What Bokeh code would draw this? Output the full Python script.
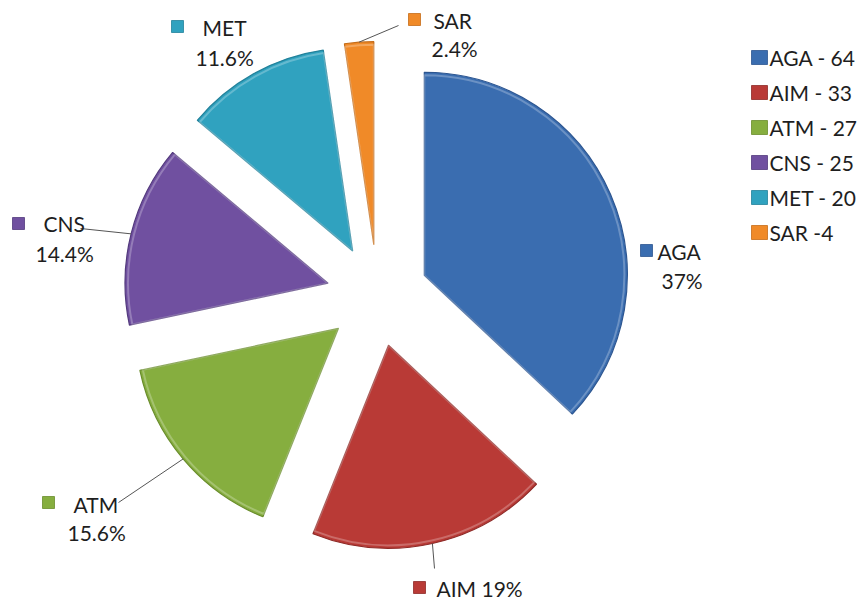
import numpy as np
from bokeh.plotting import figure
from bokeh.models import ColumnDataSource
from bokeh.core.properties import value
from bokeh.embed import file_html
from bokeh.resources import INLINE

# ---- data ----
categories = ["AGA", "AIM", "ATM", "CNS", "MET", "SAR"]
counts = [64, 33, 27, 25, 20, 4]
pct_labels = ["37%", "19%", "15.6%", "14.4%", "11.6%", "2.4%"]
legend_labels = ["AGA - 64", "AIM - 33", "ATM - 27", "CNS - 25", "MET - 20", "SAR -4"]

# ---- style ----
colors = ["#3A6DB0", "#B93A36", "#86AE3F", "#7050A0", "#30A2BF", "#F08A28"]
edges = ["#2C5590", "#8E2A27", "#6A8D2C", "#533A7D", "#22829B", "#C56C18"]
FONT = "Lato"
TXT = "#1E1E1E"
W, H = 862, 604
CX, CY = 377, 295          # pie centre (screen px)
R = 203                    # radius
EXPLODE = 51               # explosion distance


def sy(y):
    return H - y


vals = np.array(counts, dtype=float)
frac = vals / vals.sum()
cum = np.concatenate([[0], np.cumsum(frac)]) * 2 * np.pi   # clockwise from top
t1, t2 = cum[:-1], cum[1:]
tm = (t1 + t2) / 2
cx = CX + EXPLODE * np.sin(tm)
cy = sy(CY) + EXPLODE * np.cos(tm)
start = np.pi / 2 - t2
end = np.pi / 2 - t1

p = figure(width=W, height=H, x_range=(0, W), y_range=(0, H),
           x_axis_location=None, y_axis_location=None,
           toolbar_location=None, output_backend="svg", min_border=0,
           outline_line_color=None, background_fill_color="white")
p.grid.visible = False

src = ColumnDataSource(dict(x=cx, y=cy, s=start, e=end, c=colors, l=edges))
p.wedge(x="x", y="y", radius=R, start_angle="s", end_angle="e",
        fill_color="c", line_color="l", line_width=1.2, source=src)
# subtle bevel highlight
p.wedge(x="x", y="y", radius=R - 3, start_angle="s", end_angle="e",
        fill_color=None, line_color="white", line_alpha=0.25, line_width=2,
        source=src)

# ---- data labels (layout positions, screen px) ----
# idx: marker centre, name pos, pct pos, leader end (or None)
lab_layout = {
    0: dict(m=(646, 250), n=(657, 251), q=(661, 280), lead=None),
    1: dict(m=(419, 587), n=(436, 588), q=None, lead=(434, 568)),
    2: dict(m=(48, 502), n=(73, 504), q=(67, 532), lead=(118, 502)),
    3: dict(m=(18, 223), n=(43, 223), q=(35, 253), lead=(80, 228)),
    4: dict(m=(177, 26), n=(202, 27), q=(195, 57), lead=None),
    5: dict(m=(414, 19), n=(433, 20), q=(431, 48), lead=(398, 25)),
}

for i, lay in lab_layout.items():
    if lay["lead"] is not None:
        ax = CX + (EXPLODE + R) * np.sin(tm[i])
        ay = sy(CY) + (EXPLODE + R) * np.cos(tm[i])
        p.line([ax, lay["lead"][0]], [ay, sy(lay["lead"][1])],
               line_color="#555555", line_width=1)
    mx, my = lay["m"]
    p.rect(x=[mx], y=[sy(my)], width=12, height=12, fill_color=colors[i],
           line_color=edges[i], line_width=0.8)
    if lay["q"] is None:
        name = categories[i] + " " + pct_labels[i]
    else:
        name = categories[i]
    p.text(x=[lay["n"][0]], y=[sy(lay["n"][1])], text=[name],
           text_font=value(FONT), text_font_size="21px", text_color=TXT,
           text_baseline="middle", text_align="left")
    if lay["q"] is not None:
        p.text(x=[lay["q"][0]], y=[sy(lay["q"][1])], text=[pct_labels[i]],
               text_font=value(FONT), text_font_size="21px", text_color=TXT,
               text_baseline="middle", text_align="left")

# ---- legend ----
LX, LY0, LDY = 759, 57, 35
for k, lab in enumerate(legend_labels):
    yy = sy(LY0 + k * LDY)
    p.rect(x=[LX], y=[yy], width=16, height=14, fill_color=colors[k],
           line_color=edges[k], line_width=0.8)
    p.text(x=[LX + 10], y=[yy], text=[lab], text_font=value(FONT),
           text_font_size="21px", text_color=TXT, text_baseline="middle",
           text_align="left")

open("out.html", "w").write(file_html(p, INLINE))
